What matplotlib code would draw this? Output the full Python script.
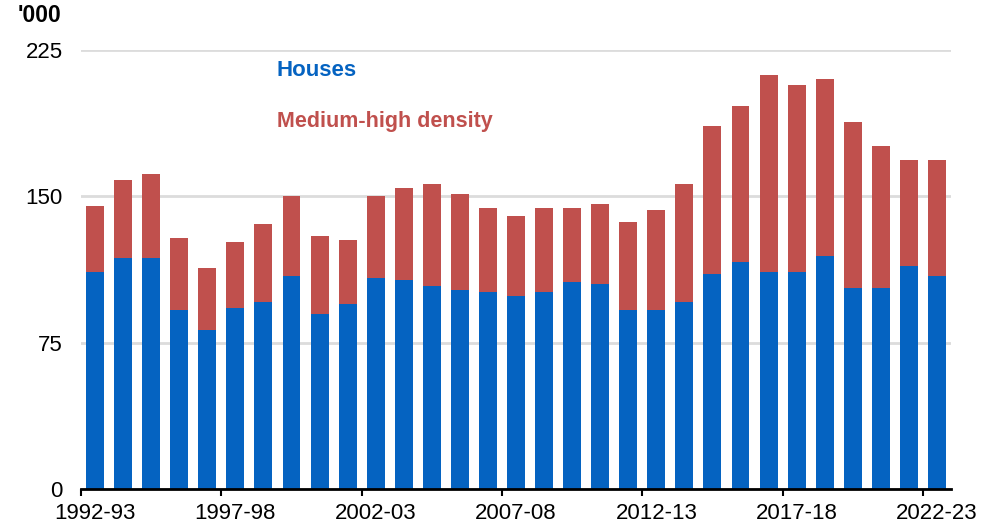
import numpy as np
import matplotlib.pyplot as plt

plt.rcParams['font.family'] = ['Liberation Sans', 'DejaVu Sans']

# financial years 1992-93 .. 2022-23
years = [f"{y}-{str(y + 1)[-2:]}" for y in range(1992, 2023)]

# dwelling approvals, '000
houses = [111.4, 118.5, 118.5, 92.0, 81.8, 93.0, 96.1, 109.3, 90.0, 95.0,
          108.3, 107.3, 104.2, 102.2, 101.2, 99.1, 101.2, 106.3, 105.3, 92.0,
          92.0, 96.1, 110.4, 116.5, 111.4, 111.4, 119.5, 103.2, 103.2, 114.4,
          109.3]
totals = [145.1, 158.3, 161.4, 128.7, 113.4, 126.7, 135.9, 150.2, 129.7, 127.7,
          150.2, 154.2, 156.3, 151.2, 144.0, 140.0, 144.0, 144.0, 146.1, 136.9,
          143.0, 156.3, 185.9, 196.1, 212.4, 207.3, 210.4, 187.9, 175.7, 168.5,
          168.5]

yticks = [0, 75, 150, 225]
tick_every = 5

BLUE = '#0563C1'
RED = '#C0504D'

houses = np.array(houses)
medium_high = np.array(totals) - houses
x = np.arange(len(years))

fig = plt.figure(figsize=(9.81, 5.30), dpi=100)
ax = fig.add_axes([81 / 981, 1 - 489.3 / 530, 870 / 981, 439.3 / 530])

ax.bar(x, houses, width=0.64, color=BLUE, zorder=3)
ax.bar(x, medium_high, bottom=houses, width=0.64, color=RED, zorder=3)

ax.set_xlim(-0.5, len(years) - 0.5)
ax.set_ylim(0, 225)

# tick marks at the left edge of each labelled year, labels on the bar itself
tick_idx = list(range(0, len(years), tick_every))
ax.set_xticks([i - 0.5 for i in tick_idx])
ax.set_xticklabels([])
ax.tick_params(axis='x', which='major', length=5, width=1.5, color='black')
ax.set_xticks(tick_idx, minor=True)
ax.set_xticklabels([years[i] for i in tick_idx], minor=True, fontsize=16)
ax.tick_params(axis='x', which='minor', length=0, pad=10)

ax.set_yticks(yticks)
ax.set_yticklabels([str(v) for v in yticks], fontsize=16)
ax.tick_params(axis='y', length=0, pad=13)

ax.grid(axis='y', color='#dcdcdc', linewidth=2, zorder=0)
ax.set_axisbelow(True)
for side in ['top', 'right', 'left']:
    ax.spines[side].set_visible(False)
ax.spines['bottom'].set_linewidth(2)
ax.spines['bottom'].set_color('black')
ax.spines['bottom'].set_zorder(4)

fig.text(18 / 981, 1 - 16 / 530, "'000", fontsize=16.5, fontweight='bold',
         va='center', ha='left')
fig.text(277 / 981, 1 - 71 / 530, 'Houses', fontsize=16, fontweight='bold',
         color=BLUE, va='center', ha='left')
fig.text(277 / 981, 1 - 122 / 530, 'Medium-high density', fontsize=15.5,
         fontweight='bold', color=RED, va='center', ha='left')

fig.savefig('out.png', dpi=100)
